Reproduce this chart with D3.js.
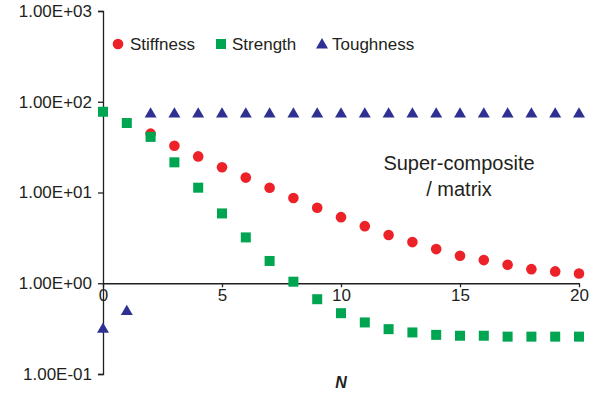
<!DOCTYPE html>
<html>
<head>
<meta charset="utf-8">
<script src="https://cdn.jsdelivr.net/npm/d3@7"></script>
<style>
  body { margin: 0; background: #fff; }
  svg text { font-family: "Liberation Sans", Arial, sans-serif; fill: #231f20; }
</style>
</head>
<body>
<script>
// values (log scale y)
var stiffN = [2, 3, 4, 5, 6, 7, 8, 9, 10, 11, 12, 13, 14, 15, 16, 17, 18, 19, 20];
var stiffness = [44.5, 32.8, 25, 19, 14.6, 11.3, 8.7, 6.8, 5.35, 4.26, 3.4, 2.84, 2.38, 2.01, 1.8, 1.6, 1.43, 1.35, 1.28];

var strengthN = [0, 1, 2, 3, 4, 5, 6, 7, 8, 9, 10, 11, 12, 13, 14, 15, 16, 17, 18, 19, 20];
var strength = [77.6, 58.3, 41, 21.5, 11.3, 5.88, 3.2, 1.76, 1.04, 0.667, 0.468, 0.37, 0.312, 0.287, 0.27, 0.264, 0.264, 0.258, 0.258, 0.258, 0.258];

var toughN = [0, 1, 2, 3, 4, 5, 6, 7, 8, 9, 10, 11, 12, 13, 14, 15, 16, 17, 18, 19, 20];
var toughness = [0.318, 0.5, 75, 75, 75, 75, 75, 75, 75, 75, 75, 75, 75, 75, 75, 75, 75, 75, 75, 75, 75];

var yTicks = [0.1, 1, 10, 100, 1000];
var xTicks = [0, 5, 10, 15, 20];

var width = 603, height = 393;

var svg = d3.select("body").append("svg")
    .attr("width", width)
    .attr("height", height);

var x = d3.scaleLinear().domain([0, 20]).range([103, 579]);
var y = d3.scaleLog().domain([0.1, 1000]).range([374, 11]);

var axisColor = "#231f20";

// y axis on the left
var yAxis = svg.append("g")
    .attr("transform", "translate(103,0)")
    .call(d3.axisLeft(y).tickValues(yTicks).tickSize(5).tickPadding(6)
        .tickFormat(function(d) {
            var e = Math.round(Math.log10(d));
            return "1.00E" + (e < 0 ? "-" : "+") + String(Math.abs(e)).padStart(2, "0");
        }));
yAxis.select(".domain").attr("stroke", axisColor).attr("stroke-width", 1.3);
yAxis.selectAll(".tick line").attr("stroke", axisColor).attr("stroke-width", 1.3);
yAxis.selectAll(".tick text").style("font-size", "17px").attr("fill", axisColor);

// x axis crosses at 1.00E+00
var xAxis = svg.append("g")
    .attr("transform", "translate(0," + y(1) + ")")
    .call(d3.axisBottom(x).tickValues(xTicks).tickSizeInner(4).tickSizeOuter(0).tickPadding(2));
xAxis.select(".domain").attr("stroke", axisColor).attr("stroke-width", 1.3);
xAxis.selectAll(".tick line").attr("stroke", axisColor).attr("stroke-width", 1.3);
xAxis.selectAll(".tick text").style("font-size", "17px").attr("fill", axisColor);

svg.append("text")
    .attr("x", x(10))
    .attr("y", 388)
    .attr("text-anchor", "middle")
    .style("font-size", "16px")
    .style("font-weight", "bold")
    .style("font-style", "italic")
    .text("N");

var red = "#ed2128", green = "#00a551", blue = "#2e3192";

var tri = d3.symbol().type(d3.symbolTriangle).size(62);

// stiffness circles
svg.append("g").selectAll("circle")
    .data(stiffN.map(function(n, i) { return [n, stiffness[i]]; }))
    .enter().append("circle")
    .attr("cx", function(d) { return x(d[0]); })
    .attr("cy", function(d) { return y(d[1]); })
    .attr("r", 5.3)
    .attr("fill", red);

// strength squares
svg.append("g").selectAll("rect")
    .data(strengthN.map(function(n, i) { return [n, strength[i]]; }))
    .enter().append("rect")
    .attr("x", function(d) { return x(d[0]) - 5; })
    .attr("y", function(d) { return y(d[1]) - 5; })
    .attr("width", 10)
    .attr("height", 10)
    .attr("fill", green);

// toughness triangles
svg.append("g").selectAll("path")
    .data(toughN.map(function(n, i) { return [n, toughness[i]]; }))
    .enter().append("path")
    .attr("d", tri)
    .attr("transform", function(d) { return "translate(" + x(d[0]) + "," + (y(d[1]) + 1) + ")"; })
    .attr("fill", blue);

// legend
var legend = svg.append("g");
legend.append("circle").attr("cx", 118).attr("cy", 44).attr("r", 5.3).attr("fill", red);
legend.append("text").attr("x", 130).attr("y", 50).style("font-size", "17px").text("Stiffness");
legend.append("rect").attr("x", 216).attr("y", 39).attr("width", 10).attr("height", 10).attr("fill", green);
legend.append("text").attr("x", 232).attr("y", 50).style("font-size", "17px").text("Strength");
legend.append("path").attr("d", tri).attr("transform", "translate(322,45)").attr("fill", blue);
legend.append("text").attr("x", 332).attr("y", 50).style("font-size", "17px").text("Toughness");

// annotation
svg.append("text").attr("x", 459).attr("y", 170).attr("text-anchor", "middle")
    .style("font-size", "20px").text("Super-composite");
svg.append("text").attr("x", 459).attr("y", 196).attr("text-anchor", "middle")
    .style("font-size", "20px").text("/ matrix");
</script>
</body>
</html>
